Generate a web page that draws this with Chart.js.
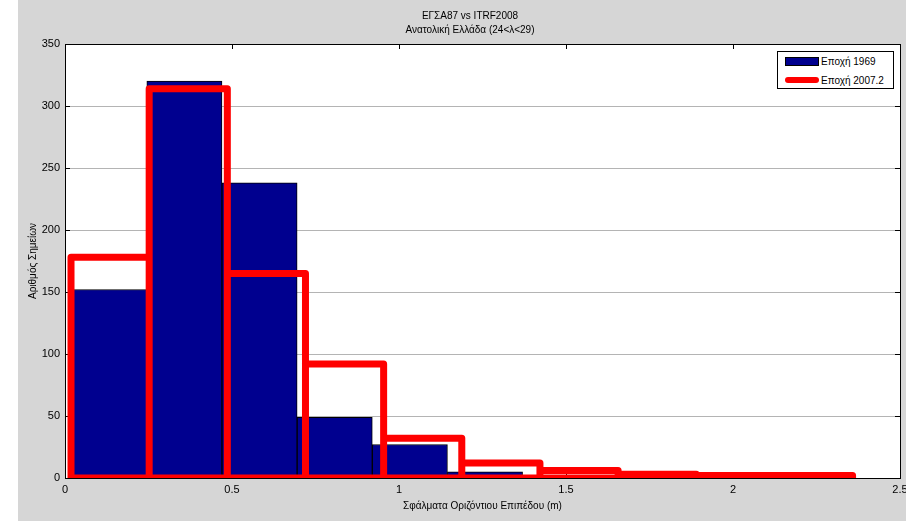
<!DOCTYPE html>
<html>
<head>
<meta charset="utf-8">
<script src="https://cdn.jsdelivr.net/npm/chart.js@4.4.0/dist/chart.umd.min.js"></script>
<style>
  html, body { margin: 0; padding: 0; background: #fff; }
  #wrap { position: relative; width: 906px; height: 521px; overflow: hidden; }
  #c { position: absolute; left: 0; top: 0; }
  #legend {
    position: absolute; left: 777px; top: 51px; width: 117px; height: 38px;
    background: #fff; border: 1px solid #000; box-sizing: border-box;
    font-family: 'Liberation Sans', Arial, sans-serif; font-size: 10px; color: #000;
  }
  .row { position: absolute; left: 7px; height: 14px; display: flex; align-items: center; }
  .sw { width: 34px; margin-right: 2px; box-sizing: border-box; }
</style>
</head>
<body>
<div id="wrap">
  <canvas id="c" width="906" height="521"></canvas>
  <div id="legend"></div>
</div>
<script>
// ---- data ----
const titleLines = ['ΕΓΣΑ87 vs ITRF2008', 'Ανατολική Ελλάδα (24<λ<29)'];
const xAxisTitle = 'Σφάλματα Οριζόντιου Επιπέδου (m)';
const yAxisTitle = 'Αριθμός Σημείων';

const label1969 = 'Εποχή 1969';
const label2007 = 'Εποχή 2007.2';

// 1969 histogram: bin centres and counts
const binCenters1969 = [0.1325, 0.3575, 0.5825, 0.8075, 1.0325, 1.2575, 1.4825, 1.7075, 1.9325, 2.1575];
const counts1969     = [152, 320, 238, 49, 27, 5, 1, 0, 0, 1];

// 2007.2 histogram: bin edges and counts (drawn as outlined bars)
const binEdges2007 = [0.018, 0.252, 0.486, 0.720, 0.954, 1.188, 1.422, 1.656, 1.890, 2.124, 2.358];
const counts2007   = [178, 314, 165, 92, 32, 12, 6, 3, 2, 2];

const xTicks = [0, 0.5, 1, 1.5, 2, 2.5];
const xTickLabels = ['0', '0.5', '1', '1.5', '2', '2.5'];
const yTicks = [0, 50, 100, 150, 200, 250, 300, 350];

// ---- build datasets ----
const bars1969 = binCenters1969.map((x, i) => ({ x: x, y: counts1969[i] }));

const outline2007 = [{ x: binEdges2007[0], y: 0 }];
counts2007.forEach((c, i) => {
  outline2007.push({ x: binEdges2007[i], y: c });
  outline2007.push({ x: binEdges2007[i + 1], y: c });
  outline2007.push({ x: binEdges2007[i + 1], y: 0 });
});
outline2007.push({ x: binEdges2007[0], y: 0 });

const BLUE = '#00008f';
const RED = '#ff0000';

Chart.defaults.font.family = "'Liberation Sans', Arial, Helvetica, sans-serif";
Chart.defaults.color = '#000';

const bgPlugin = {
  id: 'bg',
  beforeDraw(chart) {
    const { ctx, chartArea: a } = chart;
    ctx.save();
    ctx.fillStyle = '#ffffff';
    ctx.fillRect(0, 0, chart.width, chart.height);
    ctx.fillStyle = '#d6d6d6';
    ctx.fillRect(18, 0, chart.width - 18, chart.height);
    ctx.fillStyle = '#ffffff';
    ctx.fillRect(a.left, a.top, a.right - a.left, a.bottom - a.top);
    ctx.restore();
  }
};

const setXTicks = s => { s.ticks = xTicks.map(v => ({ value: v })); };
const setYTicks = s => { s.ticks = yTicks.map(v => ({ value: v })); };

const chart = new Chart(document.getElementById('c'), {
  type: 'bar',
  data: {
    datasets: [
      {
        type: 'line',
        label: label2007,
        data: outline2007,
        borderColor: RED,
        backgroundColor: RED,
        borderWidth: 7,
        borderJoinStyle: 'round',
        borderCapStyle: 'round',
        pointRadius: 0,
        tension: 0,
        fill: false,
        order: 1,
        xAxisID: 'x',
        yAxisID: 'y'
      },
      {
        type: 'bar',
        label: label1969,
        data: bars1969,
        backgroundColor: BLUE,
        borderColor: '#000',
        borderWidth: 1,
        borderSkipped: false,
        barPercentage: 1,
        categoryPercentage: 1,
        grouped: false,
        order: 2,
        xAxisID: 'x',
        yAxisID: 'y'
      }
    ]
  },
  options: {
    responsive: false,
    animation: false,
    events: [],
    layout: { padding: { left: 34, right: 0, top: 0, bottom: 0 } },
    plugins: {
      legend: { display: false },
      tooltip: { enabled: false },
      title: {
        display: true,
        text: titleLines,
        color: '#000',
        font: { size: 10, weight: 'normal', lineHeight: 1.4 },
        padding: { top: 9, bottom: 7 }
      }
    },
    scales: {
      x: {
        type: 'linear', position: 'bottom', min: 0, max: 2.5, offset: false,
        afterBuildTicks: setXTicks,
        afterFit: s => { s.height = 43; s.paddingLeft = 0; s.paddingRight = 0; },
        grid: { offset: false, drawOnChartArea: false, drawTicks: true, tickLength: -5, tickColor: '#000' },
        border: { display: true, color: '#000', width: 1 },
        ticks: {
          padding: 10, autoSkip: false, maxRotation: 0, color: '#000',
          font: { size: 11 },
          callback: (v, i) => xTickLabels[i]
        },
        title: {
          display: true, text: xAxisTitle, color: '#000',
          font: { size: 10 }, padding: { top: 0, bottom: 9 }
        }
      },
      xTop: {
        type: 'linear', position: 'top', min: 0, max: 2.5, offset: false,
        afterBuildTicks: setXTicks,
        afterFit: s => { s.height = 0; s.paddingLeft = 0; s.paddingRight = 0; },
        grid: { offset: false, drawOnChartArea: false, drawTicks: true, tickLength: -5, tickColor: '#000' },
        border: { display: true, color: '#000', width: 1 },
        ticks: { display: false }
      },
      y: {
        type: 'linear', position: 'left', min: 0, max: 350,
        afterBuildTicks: setYTicks,
        afterFit: s => { s.width = 31; s.paddingTop = 0; s.paddingBottom = 0; },
        grid: { color: '#b4b4b4', drawTicks: true, tickLength: -5, tickColor: '#000' },
        border: { display: true, color: '#000', width: 1 },
        ticks: { padding: 10, color: '#000', font: { size: 11 } },
        title: {
          display: true, text: yAxisTitle, color: '#000',
          font: { size: 10 }, padding: { top: -7, bottom: 0 }
        }
      },
      yRight: {
        type: 'linear', position: 'right', min: 0, max: 350,
        afterBuildTicks: setYTicks,
        afterFit: s => { s.width = 6; s.paddingTop = 0; s.paddingBottom = 0; },
        grid: { drawOnChartArea: false, drawTicks: true, tickLength: -5, tickColor: '#000' },
        border: { display: true, color: '#000', width: 1 },
        ticks: { display: false }
      }
    }
  },
  plugins: [bgPlugin]
});

// ---- legend (real text) built from the datasets ----
const legend = document.getElementById('legend');
const order = [chart.data.datasets[1], chart.data.datasets[0]];
order.forEach((ds, i) => {
  const row = document.createElement('div');
  row.className = 'row';
  row.style.top = (i === 0 ? 2 : 21) + 'px';
  const sw = document.createElement('div');
  sw.className = 'sw';
  if (ds.type === 'bar') {
    sw.style.height = '9px';
    sw.style.background = ds.backgroundColor;
    sw.style.border = '1px solid #000';
  } else {
    sw.style.height = '6px';
    sw.style.background = ds.borderColor;
    sw.style.borderRadius = '3px';
  }
  const tx = document.createElement('span');
  tx.textContent = ds.label;
  row.appendChild(sw);
  row.appendChild(tx);
  legend.appendChild(row);
});
</script>
</body>
</html>
